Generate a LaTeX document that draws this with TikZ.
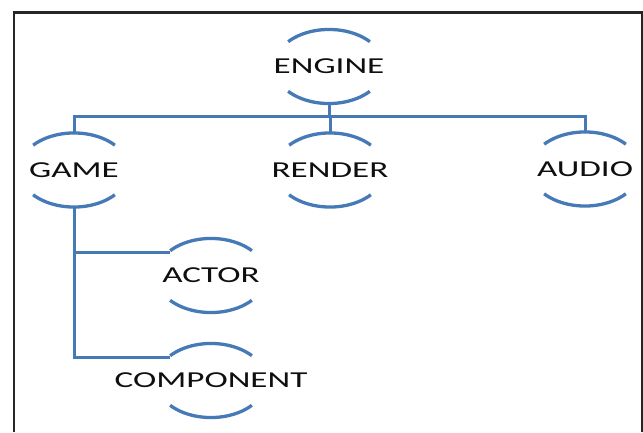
\documentclass[tikz,border=0pt]{standalone}
\usepackage{fontspec}
\usepackage{graphicx}
\setmainfont{Carlito}
\definecolor{linkblue}{RGB}{70,122,182}
\definecolor{framegray}{RGB}{38,38,38}
\definecolor{labelink}{RGB}{15,15,15}

% Label set in a horizontally widened Carlito
\newcommand{\widelabel}[1]{\scalebox{1.54}[1]{#1}}

% Upper and lower arcs of the flattened circle around a label
\newcommand{\labelarcs}[1]{%
  \draw[arcline] ([shift={(40.9pt,24.8pt)}]#1.center)
    arc[start angle=42,end angle=138,x radius=55pt,y radius=37pt];
  \draw[arcline] ([shift={(-40.9pt,-24.8pt)}]#1.center)
    arc[start angle=222,end angle=318,x radius=55pt,y radius=37pt];
}

\begin{document}
\begin{tikzpicture}[x=1pt,y=1pt,
  labelnode/.style={rectangle,inner sep=0pt,outer sep=0pt,minimum height=74pt,
    text=labelink,font=\fontsize{22.8pt}{24pt}\selectfont},
  arcline/.style={draw=linkblue,line width=3.3pt},
  link/.style={draw=linkblue,line width=3pt},
  frameline/.style={draw=framegray}]
\useasboundingbox (0,0) rectangle (643,432);

% outer frame (open at the bottom)
\draw[frameline,line width=2.6pt] (14,0) -- (14,419);
\draw[frameline,line width=3pt] (12.7,419) -- (643,419);
\draw[frameline,line width=1.2pt] (642,420) -- (642,0);

% labels
\node[labelnode] (engine) at (329,365.5) {\widelabel{ENGINE}};
\node[labelnode] (game) at (74,262) {\widelabel{GAME}};
\node[labelnode] (render) at (330,262) {\widelabel{RENDER}};
\node[labelnode] (audio) at (585,263) {\widelabel{AUDIO}};
\node[labelnode] (actor) at (211,156.5) {\widelabel{ACTOR}};
\node[labelnode] (component) at (211,51.5) {\widelabel{COMPONENT}};

\labelarcs{engine}
\labelarcs{game}
\labelarcs{render}
\labelarcs{audio}
\labelarcs{actor}
\labelarcs{component}

% branch points on the left ends of the upper arcs
\coordinate (actorin) at ([shift={(-40.9pt,23.5pt)}]actor.center);
\coordinate (componentin) at ([shift={(-40.9pt,23.5pt)}]component.center);

% connectors
\draw[link] (engine.south) -- ++(0,-13.5) coordinate (bus) -| (game.north);
\draw[link] (bus) -| (render.north);
\draw[link] (bus) -| (audio.north);
\draw[link] (game.south) |- (actorin);
\draw[link] (game.south) |- (componentin);
\end{tikzpicture}
\end{document}
